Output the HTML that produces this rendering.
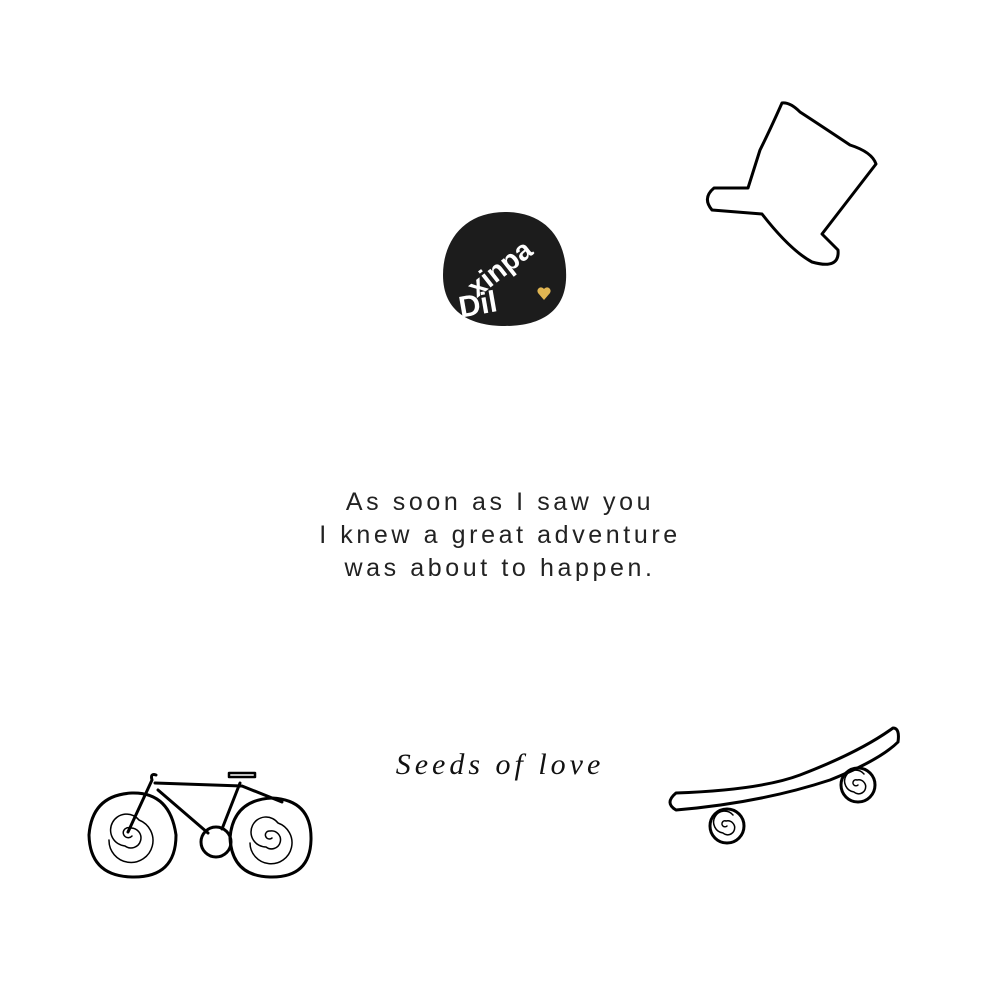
<!DOCTYPE html>
<html><head><style>
html,body{margin:0;padding:0;background:#fff}
.p{position:relative;width:1000px;height:1000px;overflow:hidden}
.q{position:absolute;left:0;width:1000px;top:486px;text-align:center;font-family:"Liberation Sans",sans-serif;font-size:25px;letter-spacing:3.6px;line-height:33px;color:#222}
.s{position:absolute;left:0;width:1000px;top:748px;text-align:center;font-family:"Liberation Serif",serif;font-style:italic;font-size:30px;letter-spacing:4px;color:#111}
</style></head><body><div class="p">
<svg width="1000" height="1000" style="position:absolute;left:0;top:0" fill="none" stroke="#000" stroke-width="3" stroke-linecap="round" stroke-linejoin="round">
<!-- logo -->
<path d="M505,212 C550,212 568,245 566,280 C564,312 540,326 505,326 C470,326 443,312 443,275 C443,240 465,212 505,212Z" fill="#1c1c1c" stroke="none"/>
<g fill="#fff" stroke="none" font-family="Liberation Sans,sans-serif" font-weight="bold">
<text x="456" y="282" font-size="28" transform="rotate(-38 490 260)">xinpa</text>
<text x="458" y="314" font-size="30" transform="rotate(-10 480 300)">Dil</text>
</g>
<path d="M544,300 l-6,-7 a3.5,3.5 0 0 1 6,-4 a3.5,3.5 0 0 1 6,4z" fill="#e0b552" stroke="none"/>
<!-- hat -->
<path d="M782,103 Q770,130 760,150 L748,188 L714,188 Q702,198 712,210 L762,214 Q790,250 812,262 Q840,270 838,250 L822,234 L876,164 Q872,152 850,145 Q820,125 800,112 Q790,102 782,103Z"/>
<!-- bicycle -->
<path d="M132,793 Q170,792 176,835 Q176,878 132,877 Q90,876 89,835 Q92,795 132,793Z"/>
<path d="M132,836 a5,5 0 1 1 -2,-8 a10,10 0 1 1 -5,18 a16,16 0 1 1 14,-26 a22,22 0 1 1 -30,20" stroke-width="1.5"/>
<path d="M272,798 Q312,800 311,840 Q310,878 270,877 Q232,876 230,838 Q233,800 272,798Z"/>
<path d="M272,838 a4,4 0 1 1 -2,-7 a9,9 0 1 1 -4,16 a15,15 0 1 1 12,-24 a21,21 0 1 1 -28,20" stroke-width="1.5"/>
<circle cx="216" cy="842" r="15"/>
<path d="M128,832 L152,780 Q150,773 156,775 M155,783 L242,786 L282,802 M158,790 L208,833 M240,783 L222,829" />
<path d="M229,773 h26 v4 h-26z" stroke-width="2.5"/>
<!-- skateboard -->
<path d="M676,793 Q760,790 800,775 Q860,752 893,728 Q900,728 898,742 Q880,760 830,780 Q760,803 676,810 Q664,803 676,793Z"/>
<circle cx="727" cy="826" r="17"/>
<path d="M727,826 a3,3 0 1 1 -1,-5 a7,7 0 1 1 -3,12 a11,11 0 1 1 10,-18" stroke-width="1.5"/>
<circle cx="858" cy="785" r="17"/>
<path d="M858,785 a3,3 0 1 1 -1,-5 a7,7 0 1 1 -3,12 a11,11 0 1 1 10,-18" stroke-width="1.5"/>
</svg>
<div class="q">As soon as I saw you<br>I knew a great adventure<br>was about to happen.</div>
<div class="s">Seeds of love</div>
</div></body></html>
